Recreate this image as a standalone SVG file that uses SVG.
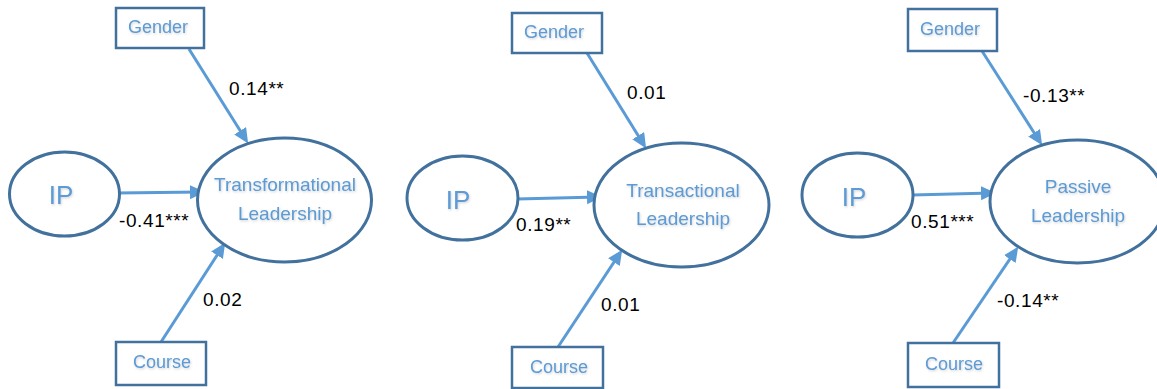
<svg xmlns="http://www.w3.org/2000/svg" width="1157" height="389" viewBox="0 0 1157 389">
  <style>
    .box { fill: #ffffff; stroke: #41719c; stroke-width: 2.5; }
    .oval { fill: #ffffff; stroke: #41719c; stroke-width: 3; }
    .lbl { font-family: "Liberation Sans", Arial, sans-serif; font-size: 18px; fill: #5b9bd5; text-anchor: middle; filter: url(#soft); }
    .big { font-size: 26px; }
    .ovl { font-size: 19px; }
    .coef { font-family: "Liberation Sans", Arial, sans-serif; font-size: 19px; fill: #000000; letter-spacing: 0.6px; }
    .arrow { fill: none; stroke: #5b9bd5; stroke-width: 3; marker-end: url(#head); }
  </style>
  <defs>
    <marker id="head" markerUnits="userSpaceOnUse" markerWidth="16" markerHeight="16" refX="11" refY="7" orient="auto">
      <path d="M0,0 L15,7 L0,14 z" fill="#5b9bd5"/>
    </marker>
    <filter id="soft" x="-10%" y="-20%" width="120%" height="150%">
      <feDropShadow dx="0.8" dy="1.2" stdDeviation="0.8" flood-color="#7f7f7f" flood-opacity="0.35"/>
    </filter>
  </defs>
  <rect width="1157" height="389" fill="#ffffff"/>

  <!-- connectors -->
  <g id="connectors">
    <path class="arrow" d="M189,49 L246,140"/>
    <path class="arrow" d="M117,193 L201,192"/>
    <path class="arrow" d="M161,342 L223,246"/>

    <path class="arrow" d="M587,53 L644,145"/>
    <path class="arrow" d="M517,199 L598,197"/>
    <path class="arrow" d="M558,347 L620,253"/>

    <path class="arrow" d="M982,51 L1040,142"/>
    <path class="arrow" d="M912,195 L992,193"/>
    <path class="arrow" d="M953,343 L1016,250"/>
  </g>

  <!-- coefficient labels -->
  <g id="coefficients">
    <text class="coef" x="229" y="95">0.14**</text>
    <text class="coef" x="119" y="227">-0.41***</text>
    <text class="coef" x="203" y="306">0.02</text>

    <text class="coef" x="627" y="99">0.01</text>
    <text class="coef" x="516" y="231">0.19**</text>
    <text class="coef" x="601" y="311">0.01</text>

    <text class="coef" x="1023" y="102">-0.13**</text>
    <text class="coef" x="911" y="228">0.51***</text>
    <text class="coef" x="997" y="307">-0.14**</text>
  </g>

  <!-- model 1: transformational -->
  <g id="gender1">
    <rect class="box" x="116" y="8" width="88" height="40"/>
    <text class="lbl" x="158" y="33">Gender</text>
  </g>
  <g id="ip1">
    <ellipse class="oval" cx="64.5" cy="194" rx="55" ry="42"/>
    <text class="lbl big" x="61" y="204">IP</text>
  </g>
  <g id="transformational">
    <ellipse class="oval" cx="284.5" cy="200" rx="87" ry="62"/>
    <text class="lbl ovl" x="285" y="191">Transformational</text>
    <text class="lbl ovl" x="285" y="220">Leadership</text>
  </g>
  <g id="course1">
    <rect class="box" x="116" y="342" width="90" height="43"/>
    <text class="lbl" x="162" y="368">Course</text>
  </g>

  <!-- model 2: transactional -->
  <g id="gender2">
    <rect class="box" x="512" y="13" width="90" height="40"/>
    <text class="lbl" x="554" y="38">Gender</text>
  </g>
  <g id="ip2">
    <ellipse class="oval" cx="462.5" cy="198" rx="55.5" ry="42"/>
    <text class="lbl big" x="458" y="209">IP</text>
  </g>
  <g id="transactional">
    <ellipse class="oval" cx="681.5" cy="205" rx="87.5" ry="62"/>
    <text class="lbl ovl" x="683" y="197">Transactional</text>
    <text class="lbl ovl" x="683" y="225">Leadership</text>
  </g>
  <g id="course2">
    <rect class="box" x="512" y="347" width="91" height="41"/>
    <text class="lbl" x="559" y="373">Course</text>
  </g>

  <!-- model 3: passive -->
  <g id="gender3">
    <rect class="box" x="908" y="9" width="89" height="42"/>
    <text class="lbl" x="950" y="35">Gender</text>
  </g>
  <g id="ip3">
    <ellipse class="oval" cx="857.5" cy="195" rx="55.5" ry="42"/>
    <text class="lbl big" x="854" y="206">IP</text>
  </g>
  <g id="passive">
    <ellipse class="oval" cx="1077.5" cy="201.5" rx="87.5" ry="61.5"/>
    <text class="lbl ovl" x="1078" y="193">Passive</text>
    <text class="lbl ovl" x="1078" y="222">Leadership</text>
  </g>
  <g id="course3">
    <rect class="box" x="908" y="343" width="91" height="44"/>
    <text class="lbl" x="954" y="370">Course</text>
  </g>
</svg>
